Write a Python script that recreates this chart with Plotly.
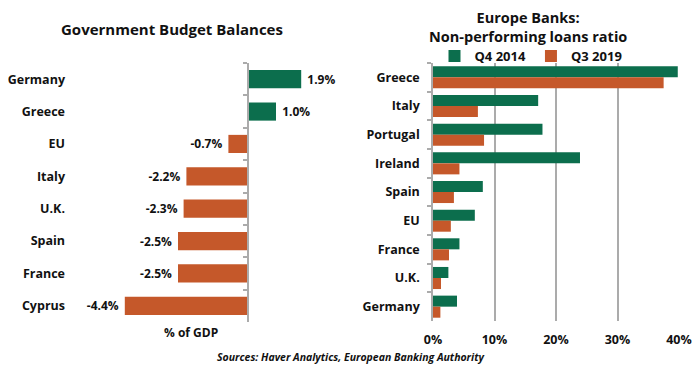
import plotly.graph_objects as go

# ---- data ----
budget_countries = ["Germany", "Greece", "EU", "Italy", "U.K.", "Spain", "France", "Cyprus"]
budget_values = [1.9, 1.0, -0.7, -2.2, -2.3, -2.5, -2.5, -4.4]

npl_countries = ["Greece", "Italy", "Portugal", "Ireland", "Spain", "EU", "France", "U.K.", "Germany"]
npl_q4_2014 = [39.8, 17.1, 17.8, 23.9, 8.1, 6.8, 4.3, 2.5, 3.9]
npl_q3_2019 = [37.5, 7.3, 8.3, 4.3, 3.4, 2.9, 2.6, 1.3, 1.2]

x_ticks = [0, 10, 20, 30, 40]
x_tick_labels = ["0%", "10%", "20%", "30%", "40%"]

GREEN = "#0c6e4d"
ORANGE = "#c5582a"
TEXT = "#111111"
GRID = "#ababab"
FONT = "Open Sans"

W, H = 700, 368
OFF = 8  # page body margin offset
def px(x):
    return (x - OFF) / W
def py(y):
    return 1 - (y - OFF) / H

bar_colors = [GREEN if v >= 0 else ORANGE for v in budget_values]
budget_text = [("\u00a0" + f"{v:.1f}%") if v >= 0 else (f"{v:.1f}%" + "\u00a0") for v in budget_values]

fig = go.Figure()

fig.add_trace(go.Bar(
    y=budget_countries, x=budget_values, orientation="h", width=0.56,
    marker=dict(color=bar_colors, line=dict(width=0)),
    text=budget_text, textposition="outside", cliponaxis=False,
    textfont=dict(family=FONT, size=12, color=TEXT, weight="bold"),
    xaxis="x", yaxis="y", showlegend=False, hoverinfo="skip",
))

fig.add_trace(go.Bar(
    y=npl_countries, x=npl_q4_2014, orientation="h", name="Q4 2014",
    width=0.385, offset=-0.385,
    marker=dict(color=GREEN, line=dict(width=0)),
    xaxis="x2", yaxis="y2",
))
fig.add_trace(go.Bar(
    y=npl_countries, x=npl_q3_2019, orientation="h", name="Q3 2019",
    width=0.385, offset=0.0,
    marker=dict(color=ORANGE, line=dict(width=0)),
    xaxis="x2", yaxis="y2",
))

# invisible trace so the boundary-tick axis at zero is drawn
fig.add_trace(go.Bar(y=budget_countries, x=[0] * len(budget_countries), orientation="h",
                     xaxis="x", yaxis="y3", showlegend=False, hoverinfo="skip",
                     marker=dict(color="rgba(0,0,0,0)")))

ydom = [py(322), py(63)]
zero_left = 248
x_left0, x_left1 = 66, 330

fig.update_layout(
    template="none",
    width=W, height=H,
    margin=dict(l=0, r=0, t=0, b=0, autoexpand=False),
    paper_bgcolor="white", plot_bgcolor="white",
    font=dict(family=FONT, color=TEXT),
    barmode="group",
    showlegend=True,
    legend=dict(orientation="h", x=px(531), y=py(56), xanchor="center", yanchor="middle",
                font=dict(family=FONT, size=13, color=TEXT, weight="bold"),
                itemwidth=30, tracegroupgap=0, bgcolor="rgba(0,0,0,0)"),
    xaxis=dict(domain=[px(x_left0), px(x_left1)],
               range=[(x_left0 - zero_left) / 28.0, (x_left1 - zero_left) / 28.0],
               showgrid=False, zeroline=True, zerolinecolor=GRID, zerolinewidth=1.5,
               showticklabels=False, showline=False, ticks="", automargin=False),
    yaxis=dict(domain=ydom, anchor="x", type="category", categoryorder="array",
               categoryarray=budget_countries, autorange="reversed",
               showline=False, ticks="", showgrid=False, automargin=False,
               tickfont=dict(family=FONT, size=12.5, color=TEXT, weight="bold")),
    yaxis3=dict(domain=ydom, overlaying="y", anchor="free", position=px(zero_left),
                type="category", categoryorder="array", categoryarray=budget_countries,
                autorange="reversed", side="left",
                showline=True, linecolor=GRID, linewidth=1.5,
                ticks="outside", tickson="boundaries", ticklen=4, tickcolor=GRID, tickwidth=1.5,
                showticklabels=False, showgrid=False, automargin=False),
    xaxis2=dict(domain=[px(433), px(679)], range=[0, 40], anchor="y2",
                tickvals=x_ticks, ticktext=x_tick_labels,
                showgrid=True, gridcolor=GRID, gridwidth=1.5, zeroline=False,
                showline=False, ticks="", automargin=False, ticklabelstandoff=9,
                tickfont=dict(family=FONT, size=12.5, color=TEXT, weight="bold")),
    yaxis2=dict(domain=[py(321), py(63)], anchor="x2", type="category", categoryorder="array",
                categoryarray=npl_countries, autorange="reversed",
                showline=True, linecolor=GRID, linewidth=1.5,
                ticks="outside", tickson="boundaries", ticklen=4, tickcolor=GRID, tickwidth=1.5,
                showgrid=False, automargin=False, ticklabelstandoff=9,
                tickfont=dict(family=FONT, size=12.5, color=TEXT, weight="bold")),
)

annotations = [
    dict(text="Government Budget Balances", x=px(172), y=py(29), xref="paper", yref="paper",
         showarrow=False, xanchor="center", yanchor="middle",
         font=dict(family=FONT, size=15, color=TEXT, weight="bold")),
    dict(text="Europe Banks:<br>Non-performing loans ratio", x=px(528), y=py(27.5),
         xref="paper", yref="paper", showarrow=False, xanchor="center", yanchor="middle",
         font=dict(family=FONT, size=14.5, color=TEXT, weight="bold")),
    dict(text="% of GDP", x=px(191), y=py(332), xref="paper", yref="paper",
         showarrow=False, xanchor="center", yanchor="middle",
         font=dict(family=FONT, size=12, color=TEXT, weight="bold")),
    dict(text="<i>Sources: Haver Analytics, European Banking Authority</i>", x=px(350), y=py(357),
         xref="paper", yref="paper", showarrow=False, xanchor="center", yanchor="middle",
         font=dict(family=FONT, size=10.5, color=TEXT, weight="bold")),
]
fig.update_layout(annotations=annotations)

fig.write_html("out.html")
